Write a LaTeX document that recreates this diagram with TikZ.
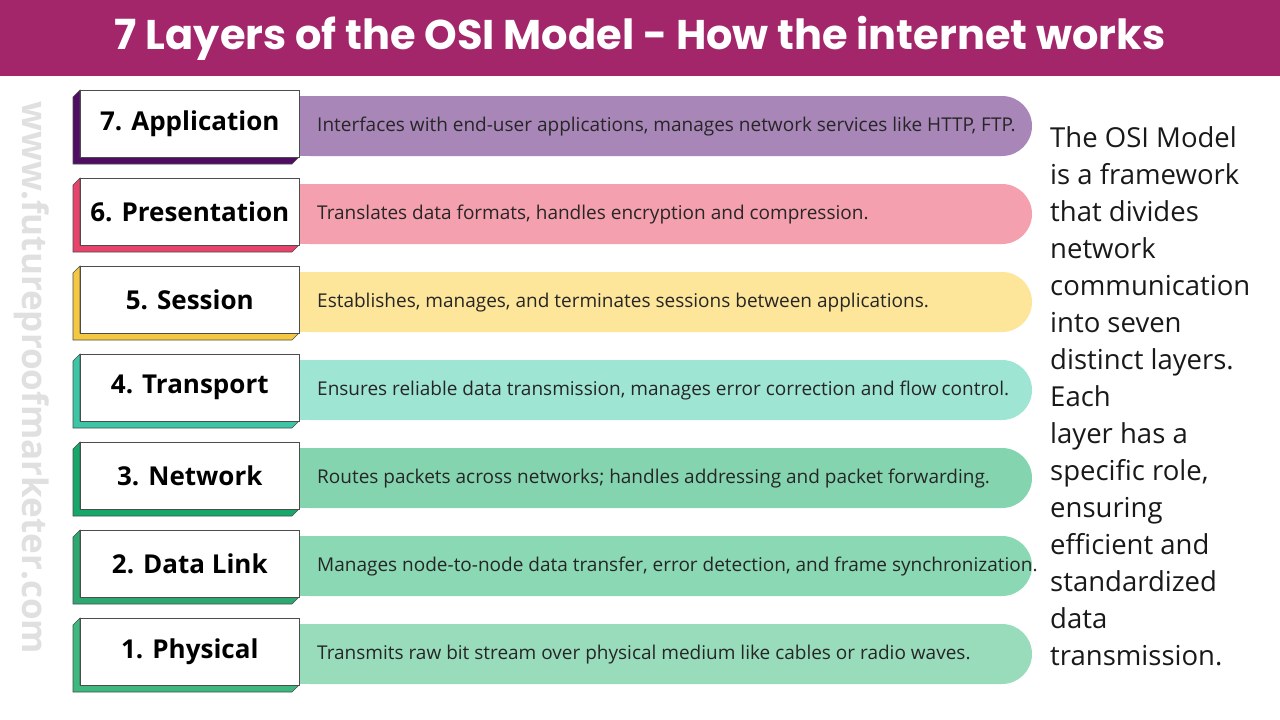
\documentclass[tikz,border=0pt]{standalone}
\usepackage{fontspec}
\setmainfont{Open Sans}
\newfontfamily\titlefont{Poppins}
\begin{document}
\begin{tikzpicture}[x=1pt,y=-1pt,
  layer/.style={draw=black!70,line width=0.6pt,fill=white,minimum width=219pt,minimum height=67pt,anchor=north west,inner sep=0pt,font=\fontsize{26}{28}\selectfont\bfseries},
  desc/.style={anchor=west,inner sep=0pt,font=\fontsize{19}{21}\selectfont,text=black!85}]
  \useasboundingbox (0,0) rectangle (1280,720);
  \fill[white] (0,0) rectangle (1280,720);
  % header
  \fill[fill={rgb,255:red,163;green,38;blue,107}] (0,0) rectangle (1280,76);
  \node[text=white,font=\titlefont\fontsize{41.5}{44}\selectfont\bfseries] (title) at (640,38) {7 Layers of the OSI Model - How the internet works};
  % watermark
  \node[rotate=-90,text=black!12,font=\fontsize{35}{36}\selectfont\bfseries] (mark) at (32,378) {www.futureproofmarketer.com};
  % layers
  \foreach \n/\name/\band/\deep/\txt in {
    7/Application/{168,134,184}/{79,14,99}/{Interfaces with end-user applications, manages network services like HTTP, FTP.},
    6/Presentation/{245,160,174}/{232,67,106}/{Translates data formats, handles encryption and compression.},
    5/Session/{253,229,154}/{245,200,66}/{Establishes, manages, and terminates sessions between applications.},
    4/Transport/{158,229,211}/{60,198,166}/{Ensures reliable data transmission, manages error correction and flow control.},
    3/Network/{133,212,176}/{22,168,106}/{Routes packets across networks; handles addressing and packet forwarding.},
    2/Data Link/{138,216,180}/{44,168,112}/{Manages node-to-node data transfer, error detection, and frame synchronization.},
    1/Physical/{152,220,188}/{61,184,127}/{Transmits raw bit stream over physical medium like cables or radio waves.}} {
    \pgfmathsetmacro{\yt}{90+88*(7-\n)}
    \definecolor{bandc}{RGB}{\band}
    \definecolor{deepc}{RGB}{\deep}
    \fill[bandc,rounded corners=30pt] (280,\yt+6) -- (1032,\yt+6) -- (1032,\yt+66) -- (280,\yt+66) -- cycle;
    \fill[bandc] (280,\yt+6) rectangle (320,\yt+66);
    \draw[fill=deepc,draw=black!70,line width=0.6pt] (80,\yt) -- (73,\yt+7) -- (73,\yt+74) -- (292,\yt+74) -- (299,\yt+67) -- (80,\yt+67) -- cycle;
    \node[layer] (L\n) at (80,\yt) {\n. \name};
    \node[desc] (D\n) at (317,\yt+37) {\txt};
  }
  % side text
  \node[anchor=north west,align=left,inner sep=0pt,font=\fontsize{27.5}{37}\selectfont,text=black!90] (about) at (1050,126) {The OSI Model\\is a framework\\that divides\\network\\communication\\into seven\\distinct layers.\\Each\\layer has a\\specific role,\\ensuring\\efficient and\\standardized\\data\\transmission.};
\end{tikzpicture}
\end{document}
